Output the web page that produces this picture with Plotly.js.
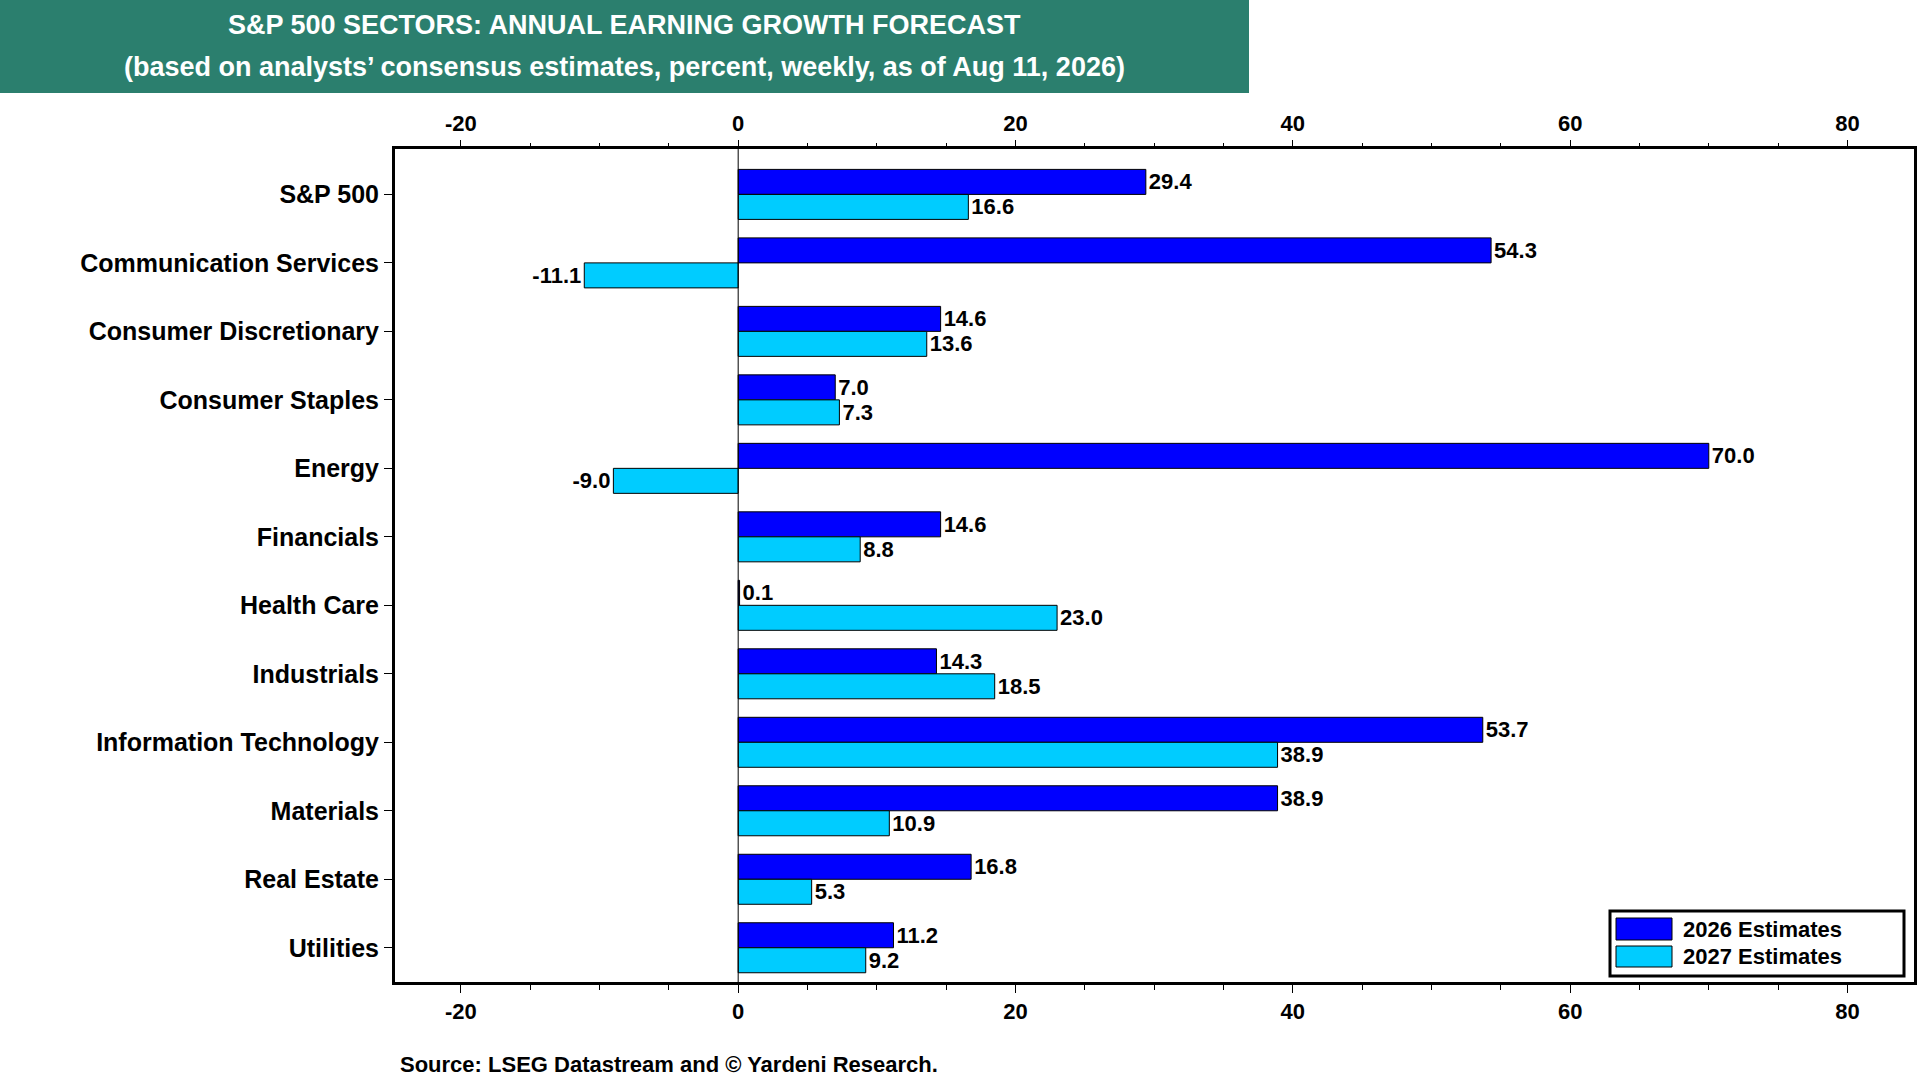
<!DOCTYPE html>
<html><head><script src="https://cdn.plot.ly/plotly-3.0.1.min.js"></script>
<style>body{margin:0;background:#fff}#c{width:1920px;height:1080px}</style></head>
<body><div id="c"></div><script>
const sectors=["S&P 500","Communication Services","Consumer Discretionary","Consumer Staples","Energy","Financials","Health Care","Industrials","Information Technology","Materials","Real Estate","Utilities"];
const est2026=[29.4,54.3,14.6,7.0,70.0,14.6,0.1,14.3,53.7,38.9,16.8,11.2];
const est2027=[16.6,-11.1,13.6,7.3,-9.0,8.8,23.0,18.5,38.9,10.9,5.3,9.2];
const tickVals=[-20,0,20,40,60,80];
const tickText=["-20","0","20","40","60","80"];
const F="Liberation Sans, Arial, sans-serif";
const L=395,R=6,T=149,B=98,W=1920-L-R,H=1080-T-B;
const px=x=>(x-L)/W, py=y=>(1080-B-y)/H;
const lab=v=>v.map(x=>'<b>'+x.toFixed(1)+'</b>');
const mk=(name,vals,color)=>({type:'bar',orientation:'h',name:name,y:sectors,x:vals,
 marker:{color:color,line:{color:'#000',width:1}},text:lab(vals),textposition:'outside',
 textfont:{family:F,size:22,color:'#000'},cliponaxis:false,hoverinfo:'x',showlegend:false});
const range=[-24.75,84.8];
const axBase={range:range,tickvals:tickVals,ticktext:tickText,ticks:'outside',ticklen:8,tickcolor:'#000',
 tickfont:{family:F,size:22,color:'#000',weight:'bold'},showgrid:false,zeroline:false,
 minor:{dtick:5,ticks:'outside',ticklen:5,tickcolor:'#000'}};
const ann=(x,y,text,size,color,xa)=>({xref:'paper',yref:'paper',x:px(x),y:py(y),xanchor:xa||'center',yanchor:'middle',
 text:'<b>'+text+'</b>',showarrow:false,font:{family:F,size:size,color:color}});
const rect=(x0,y0,x1,y1,fill,lw)=>({type:'rect',xref:'paper',yref:'paper',x0:px(x0),x1:px(x1),y0:py(y1),y1:py(y0),
 fillcolor:fill,line:{color:'#000',width:lw}});
const layout={width:1920,height:1080,paper_bgcolor:'#fff',plot_bgcolor:'#fff',
 margin:{l:L,r:R,t:T,b:B},barmode:'group',bargap:0.27,bargroupgap:0,showlegend:false,
 xaxis:Object.assign({},axBase,{showline:true,linecolor:'#000',linewidth:3,mirror:true}),
 xaxis2:Object.assign({},axBase,{overlaying:'x',side:'top',matches:'x'}),
 yaxis:{autorange:'reversed',ticks:'outside',ticklen:8,tickcolor:'#000',showline:true,linecolor:'#000',linewidth:3,mirror:true,
  tickfont:{family:F,size:25,color:'#000',weight:'bold'},showgrid:false},
 shapes:[
  {type:'line',xref:'x',yref:'paper',x0:0,x1:0,y0:0,y1:1,line:{color:'#000',width:1}},
  Object.assign(rect(0,0,1249,93,'#2b7f6e',0),{layer:'below'}),
  rect(1610,911,1904,976,'#fff',3),
  rect(1616,918,1672,940,'#0000ff',1),
  rect(1616,946,1672,967,'#00ccff',1)],
 annotations:[
  ann(624,25,'S&P 500 SECTORS: ANNUAL EARNING GROWTH FORECAST',27,'#fff'),
  ann(624,67,'(based on analysts’ consensus estimates, percent, weekly, as of Aug 11, 2026)',27,'#fff'),
  ann(398,1064,'Source: LSEG Datastream and © Yardeni Research.',22,'#000','left'),
  ann(1681,929,'2026 Estimates',22,'#000','left'),
  ann(1681,956,'2027 Estimates',22,'#000','left')]
};
const t1=mk('2026 Estimates',est2026,'#0000ff'), t2=mk('2027 Estimates',est2027,'#00ccff');
const ghost={type:'scatter',x:[0],y:[sectors[0]],xaxis:'x2',mode:'markers',marker:{opacity:0},showlegend:false,hoverinfo:'skip'};
Plotly.newPlot('c',[t1,t2,ghost],layout,{displayModeBar:false});
</script></body></html>
